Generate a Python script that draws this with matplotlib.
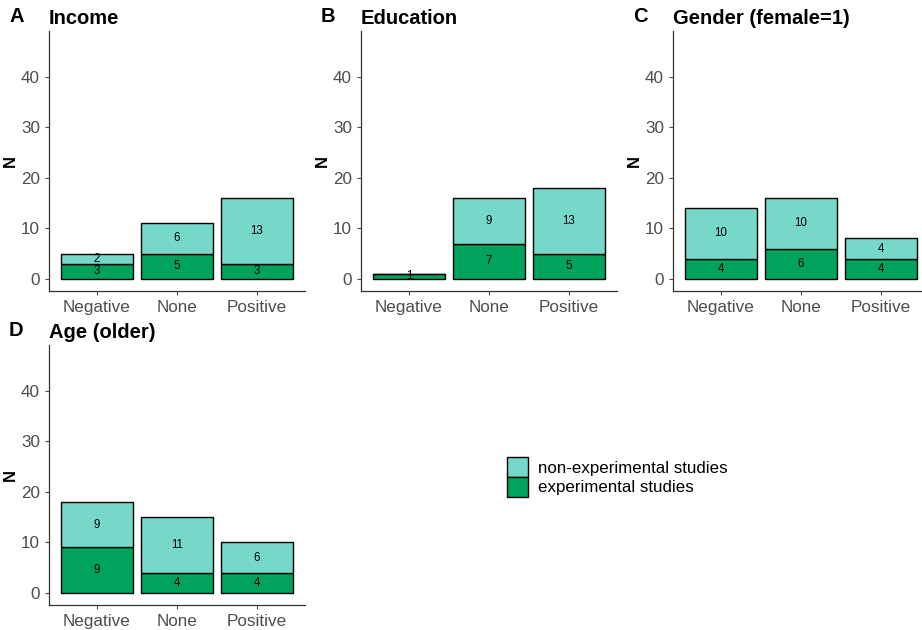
import matplotlib
matplotlib.use("Agg")
import matplotlib.pyplot as plt
from matplotlib.patches import Patch

plt.rcParams['font.family'] = ['Liberation Sans', 'DejaVu Sans']

# Daten
categories = ["Negative", "None", "Positive"]
panel_letters = ["A", "B", "C", "D"]
panel_titles = ["Income", "Education", "Gender (female=1)", "Age (older)"]
experimental = [
    [3, 5, 3],
    [1, 7, 5],
    [4, 6, 4],
    [9, 4, 4],
]
non_experimental = [
    [2, 6, 13],
    [0, 9, 13],
    [10, 10, 4],
    [9, 11, 6],
]
yticks = [0, 10, 20, 30, 40]

col_light = "#76D8C8"
col_dark = "#00A35B"

fig = plt.figure(figsize=(9.22, 6.3), dpi=100)

# Positionen der Panels (in Pixeln: links, unten-Achse)
W, H = 922, 630
pw, ph = 256, 260
panels = [(49, 291), (361, 291), (673, 291), (49, 605)]

for i, (px, py) in enumerate(panels):
    ax = fig.add_axes([px / W, 1 - py / H, pw / W, ph / H])
    x = range(len(categories))
    exp = experimental[i]
    non = non_experimental[i]
    ax.bar(x, exp, width=0.9, color=col_dark, edgecolor="black", linewidth=1)
    ax.bar(x, non, width=0.9, bottom=exp, color=col_light, edgecolor="black", linewidth=1)
    for xi, e, n in zip(x, exp, non):
        if e > 0:
            ax.text(xi, e / 2, str(e), ha="center", va="center", fontsize=8.3)
        if n > 0:
            ax.text(xi, e + n / 2, str(n), ha="center", va="center", fontsize=8.3)

    ax.set_xlim(-0.6, 2.6)
    ax.set_ylim(-2.4, 49.1)
    ax.set_xticks(list(x))
    ax.set_xticklabels(categories)
    ax.set_yticks(yticks)
    ax.tick_params(colors="#4D4D4D", labelsize=12.3, length=3, width=0.8, labelcolor="#4D4D4D")
    for s in ["top", "right"]:
        ax.spines[s].set_visible(False)
    for s in ["left", "bottom"]:
        ax.spines[s].set_color("#333333")
        ax.spines[s].set_linewidth(0.9)
    ax.set_ylabel("N", fontsize=12, fontweight="bold", labelpad=2)
    ax.set_title(panel_titles[i], loc="left", fontsize=14.5, fontweight="bold", pad=5)
    fig.text((px - 40) / W, 1 - (py - 274) / H, panel_letters[i],
             fontsize=14.5, fontweight="bold", ha="left", va="center")

handles = [
    Patch(facecolor=col_light, edgecolor="black", label="non-experimental studies"),
    Patch(facecolor=col_dark, edgecolor="black", label="experimental studies"),
]
fig.legend(handles=handles, loc="center left", bbox_to_anchor=(507 / W, 1 - 477 / H),
           frameon=False, fontsize=12.2, handlelength=1.25, handleheight=1.4,
           handletextpad=0.55, labelspacing=0.0, borderaxespad=0, borderpad=0)

fig.savefig("out.png", dpi=100)
